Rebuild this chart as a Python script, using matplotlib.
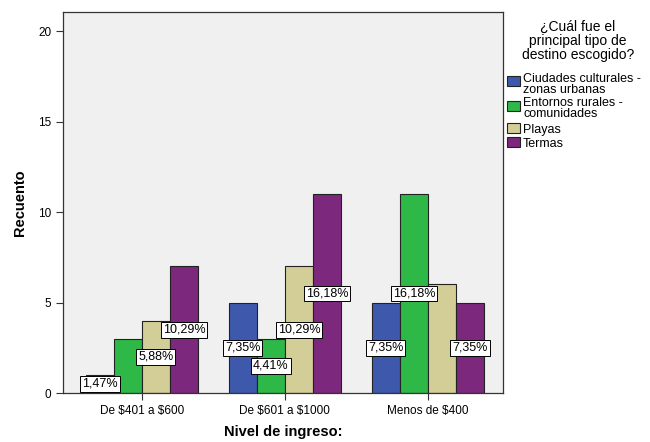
import numpy as np
import matplotlib
matplotlib.use("Agg")
import matplotlib.pyplot as plt
from matplotlib.patches import Rectangle

plt.rcParams['font.family'] = ['Liberation Sans', 'DejaVu Sans']

# data
groups = [r"De \$401 a \$600", r"De \$601 a \$1000", r"Menos de \$400"]
series = ["Ciudades culturales -\nzonas urbanas", "Entornos rurales -\ncomunidades",
          "Playas", "Termas"]
colors = ["#3E58AC", "#2EB848", "#D3CE97", "#7C287D"]
ciudades = [1, 5, 5]
entornos = [3, 3, 11]
playas = [4, 7, 6]
termas = [7, 11, 5]
# percentage labels shown in the chart (None = not shown)
lab_ciudades = ["1,47%", "7,35%", "7,35%"]
lab_entornos = [None, "4,41%", "16,18%"]
lab_playas = ["5,88%", "10,29%", None]
lab_termas = ["10,29%", "16,18%", "7,35%"]

values = [ciudades, entornos, playas, termas]
labels = [lab_ciudades, lab_entornos, lab_playas, lab_termas]

W, H = 650, 442
fig = plt.figure(figsize=(6.5, 4.42), dpi=100)
ax = fig.add_axes([63 / W, 1 - 393 / H, 440 / W, 381 / H])
ax.set_facecolor("#F0F0F0")

x = np.arange(len(groups))
w = 0.196
for i, (vals, labs) in enumerate(zip(values, labels)):
    pos = x + (i - 1.5) * w
    ax.bar(pos, vals, width=w, color=colors[i], edgecolor="#222222", linewidth=0.8, zorder=2)
    for p, v, lab in zip(pos, vals, labs):
        if lab is None:
            continue
        ax.text(p, v / 2, lab, ha="center", va="center", fontsize=9, zorder=5,
                bbox=dict(boxstyle="square,pad=0.15", facecolor="white",
                          edgecolor="black", linewidth=0.7))

ax.set_xlim(-0.552, 2.525)
ax.set_ylim(0, 21.05)
ax.set_yticks([0, 5, 10, 15, 20])
ax.set_xticks(x)
ax.set_xticklabels(groups, fontsize=8.5)
ax.tick_params(axis="y", labelsize=8.5, direction="out", length=5, colors="#333333")
ax.tick_params(axis="x", direction="out", length=5, colors="#333333")
for lbl in ax.get_xticklabels() + ax.get_yticklabels():
    lbl.set_color("black")
for s in ax.spines.values():
    s.set_color("#333333")
    s.set_linewidth(0.9)

ax.set_ylabel("Recuento", fontsize=10.5, fontweight="bold", labelpad=8)
ax.set_xlabel("Nivel de ingreso:", fontsize=10.5, fontweight="bold", labelpad=6)

# legend, drawn the SPSS way (patch aligned with the first text line)
fig.text(578 / W, 1 - 20 / H, "¿Cuál fue el\nprincipal tipo de\ndestino escogido?",
         ha="center", va="top", fontsize=10, linespacing=1.0, multialignment="center")
text_tops = [73, 97, 124, 138]
patch_tops = [76, 101, 123, 137]
for c, name, top, ptop in zip(colors, series, text_tops, patch_tops):
    fig.patches.append(Rectangle((507 / W, 1 - (ptop + 10) / H), 13 / W, 10 / H,
                                 transform=fig.transFigure, facecolor=c,
                                 edgecolor="#222222", linewidth=0.8))
    fig.text(523 / W, 1 - top / H, name, ha="left", va="top", fontsize=9, linespacing=0.85)

fig.savefig("out.png", dpi=100)
